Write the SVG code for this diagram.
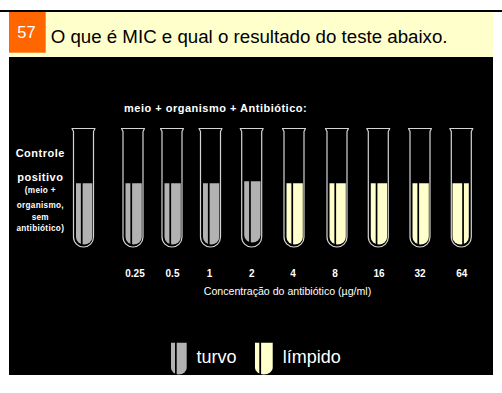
<svg xmlns="http://www.w3.org/2000/svg" width="502" height="393" viewBox="0 0 502 393">
  <defs>
    <style>
      .hdr { font-family: "Liberation Sans", Arial, sans-serif; font-size: 18.7px; fill: #000; }
      .num57 { font-family: "Liberation Sans", Arial, sans-serif; font-size: 16.5px; fill: #fff; }
      .bold { font-family: "Liberation Sans", Arial, sans-serif; font-weight: bold; fill: #fff; }
      .reg { font-family: "Liberation Sans", Arial, sans-serif; fill: #fff; }
      .glass { fill: #000; stroke: #d4d4d4; stroke-width: 1.2; stroke-linejoin: round; }
      .turbid { fill: #b2b2b2; }
      .clear { fill: #ffffcc; }
      .stripe { fill: #000; }
    </style>
    <!-- empty test tube: flared lip, straight body, round bottom -->
    <path id="glass" class="glass" d="M -11.5,128.5 L 11.5,128.5 L 10,131.5 L 10,237 A 10 10 0 0 1 -10,237 L -10,131.5 Z"/>
    <!-- liquid column inside the tube -->
    <path id="liquid" d="M -7.5,183.3 V 237 A 8.15 7.6 0 0 0 8.8,237 V 183.3 Z"/>
    <rect id="stripe" class="stripe" x="-2.6" y="183" width="1.7" height="62"/>
    <!-- legend swatch: liquid only -->
    <path id="swatch" d="M 0,342.7 H 15.7 V 368 A 7.85 6.5 0 0 1 0,368 Z"/>
  </defs>

  <rect x="0" y="0" width="502" height="393" fill="#fff"/>

  <!-- header -->
  <g id="header">
    <rect x="0" y="10" width="502" height="2" fill="#000"/>
    <rect x="9" y="12" width="484" height="45" fill="#ffffcc"/>
    <rect x="9" y="12" width="36.7" height="40.7" fill="#ff6600"/>
    <text class="num57" x="17.3" y="38.3">57</text>
    <text class="hdr" x="50.7" y="43.3">O que é MIC e qual o resultado do teste abaixo.</text>
  </g>

  <!-- black panel -->
  <rect id="panel" x="9" y="57" width="484" height="318" fill="#000"/>

  <text class="bold" x="124" y="111.7" font-size="11" letter-spacing="0.5">meio + organismo + Antibiótico:</text>

  <!-- positive control label -->
  <g id="control-label" text-anchor="middle">
    <text class="bold" x="40.3" y="157.3" font-size="11" letter-spacing="0.5">Controle</text>
    <text class="bold" x="40.3" y="180.5" font-size="11" letter-spacing="0.5">positivo</text>
    <text class="bold" x="40.3" y="193" font-size="8.2" letter-spacing="0.3">(meio +</text>
    <text class="bold" x="40.3" y="208" font-size="8.2" letter-spacing="0.3">organismo,</text>
    <text class="bold" x="40.3" y="220" font-size="8.2" letter-spacing="0.3">sem</text>
    <text class="bold" x="40.3" y="231" font-size="8.2" letter-spacing="0.3">antibiótico)</text>
  </g>

  <!-- tubes -->
  <g id="tube-control" transform="translate(83.5,0)">
    <use href="#glass"/><use href="#liquid" class="turbid"/><use href="#stripe"/>
  </g>
  <g id="tube-0.25" transform="translate(133,0)">
    <use href="#glass"/><use href="#liquid" class="turbid"/><use href="#stripe"/>
  </g>
  <g id="tube-0.5" transform="translate(172,0)">
    <use href="#glass"/><use href="#liquid" class="turbid"/><use href="#stripe"/>
  </g>
  <g id="tube-1" transform="translate(210.5,0)">
    <use href="#glass"/><use href="#liquid" class="turbid"/><use href="#stripe"/>
  </g>
  <g id="tube-2" transform="translate(251.7,-2)">
    <use href="#glass" transform="translate(0,2)"/><use href="#liquid" class="turbid"/><use href="#stripe"/>
  </g>
  <g id="tube-4" transform="translate(294,0)">
    <use href="#glass"/><use href="#liquid" class="clear"/><use href="#stripe"/>
  </g>
  <g id="tube-8" transform="translate(337,0)">
    <use href="#glass"/><use href="#liquid" class="clear"/><use href="#stripe"/>
  </g>
  <g id="tube-16" transform="translate(378.3,0)">
    <use href="#glass"/><use href="#liquid" class="clear"/><use href="#stripe"/>
  </g>
  <g id="tube-32" transform="translate(420,0)">
    <use href="#glass"/><use href="#liquid" class="clear"/><use href="#stripe"/>
  </g>
  <g id="tube-64" transform="translate(461.3,0) scale(-1,1)">
    <use href="#glass"/><use href="#liquid" class="clear"/><use href="#stripe"/>
  </g>

  <!-- concentrations -->
  <g id="concentrations" class="bold" font-size="10" text-anchor="middle">
    <text x="135" y="277.3">0.25</text>
    <text x="172.5" y="277.3">0.5</text>
    <text x="209.5" y="277.3">1</text>
    <text x="251.7" y="277.3">2</text>
    <text x="293" y="277.3">4</text>
    <text x="335" y="277.3">8</text>
    <text x="379" y="277.3">16</text>
    <text x="420" y="277.3">32</text>
    <text x="461.7" y="277.3">64</text>
  </g>
  <text class="reg" x="287.5" y="295" font-size="10.6" text-anchor="middle">Concentração do antibiótico (µg/ml)</text>

  <!-- legend -->
  <g id="legend">
    <g transform="translate(171,0)">
      <use href="#swatch" class="turbid"/>
      <rect class="stripe" x="4" y="342" width="1.7" height="34"/>
    </g>
    <text class="reg" x="196.5" y="363" font-size="18">turvo</text>
    <g transform="translate(256,0)">
      <use href="#swatch" class="clear" transform="scale(1.13,1) translate(-0.9,0)"/>
      <rect class="stripe" x="3.3" y="342" width="1.8" height="34"/>
    </g>
    <text class="reg" x="282.7" y="363" font-size="18">límpido</text>
  </g>

  <rect x="0" y="375" width="502" height="18" fill="#fff"/>
</svg>
